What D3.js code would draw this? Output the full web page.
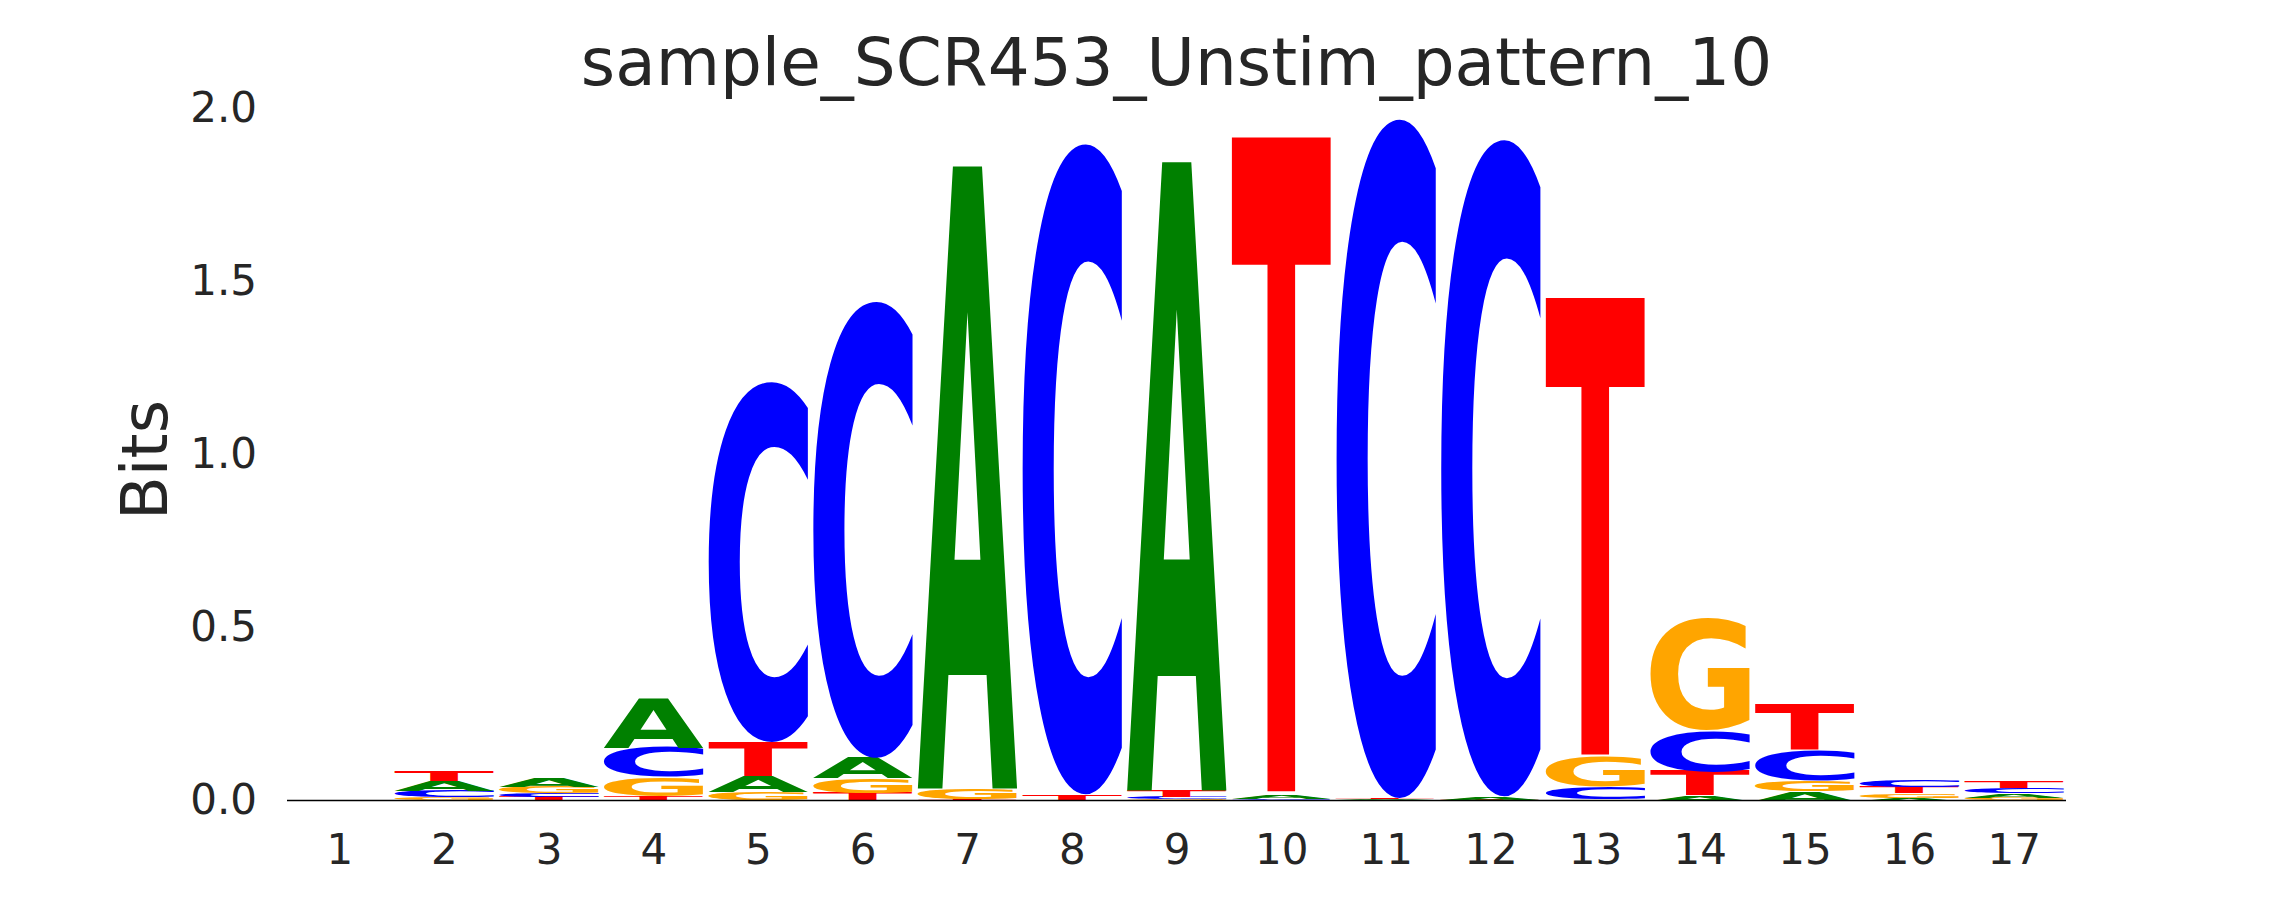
<!DOCTYPE html>
<html>
<head>
<meta charset="utf-8">
<script src="https://cdn.jsdelivr.net/npm/d3@7"></script>
<style>
  body { margin: 0; background: #fff; }
  text { font-family: "DejaVu Sans", sans-serif; fill: #262626; }
</style>
</head>
<body>
<script>
// logo data: information (bits) per letter at each position
var positions = [1, 2, 3, 4, 5, 6, 7, 8, 9, 10, 11, 12, 13, 14, 15, 16, 17];
var bitsA = [0, 0.028, 0.026, 0.142, 0.045, 0.058, 1.800, 0.000, 1.818, 0.011, 0.002, 0.008, 0.005, 0.014, 0.027, 0.008, 0.012];
var bitsC = [0, 0.018, 0.012, 0.085, 1.045, 1.324, 0.001, 1.887, 0.007, 0.003, 1.970, 1.905, 0.034, 0.118, 0.087, 0.020, 0.017];
var bitsG = [0, 0.009, 0.018, 0.056, 0.024, 0.042, 0.030, 0.000, 0.004, 0.000, 0.001, 0.000, 0.085, 0.326, 0.031, 0.013, 0.008];
var bitsT = [0, 0.029, 0.010, 0.012, 0.099, 0.022, 0.004, 0.016, 0.018, 1.905, 0.002, 0.002, 1.330, 0.070, 0.131, 0.019, 0.018];
var yTicks = [0, 0.5, 1.0, 1.5, 2.0];
var title = "sample_SCR453_Unstim_pattern_10";

var letters = ["A", "C", "G", "T"];
var letterColor = { A: "#008000", C: "#0000ff", G: "#ffa500", T: "#ff0000" };
var bitsByLetter = { A: bitsA, C: bitsC, G: bitsG, T: bitsT };

var svgWidth = 2295;
var svgHeight = 900;

var svg = d3.select("body")
  .append("svg")
  .attr("width", svgWidth)
  .attr("height", svgHeight);

var x = d3.scaleLinear()
  .domain([0.5, 17.5])
  .range([287, 2066]);

var y = d3.scaleLinear()
  .domain([0, 2])
  .range([800.5, 108.5]);

// measure tight glyph boxes so each letter can be stretched to fill its cell
var glyphSize = 200;
var ctx = document.createElement("canvas").getContext("2d");
ctx.font = "bold " + glyphSize + "px 'DejaVu Sans'";
var glyphBox = {};
letters.forEach(function(l) {
  var m = ctx.measureText(l);
  glyphBox[l] = {
    left: m.actualBoundingBoxLeft,
    right: m.actualBoundingBoxRight,
    asc: m.actualBoundingBoxAscent,
    desc: m.actualBoundingBoxDescent
  };
});

var letterWidth = (x(2) - x(1)) * 0.955;

var logoGroup = svg.append("g");

positions.forEach(function(pos, i) {
  var stack = letters.map(function(l) { return { letter: l, value: bitsByLetter[l][i] }; })
    .filter(function(d) { return d.value > 0; })
    .sort(function(a, b) { return a.value - b.value; });

  var cum = 0;
  stack.forEach(function(d) {
    var b = glyphBox[d.letter];
    var x0 = x(pos) - letterWidth / 2;
    var y0 = y(cum + d.value);
    var h = y(cum) - y(cum + d.value);
    var sx = letterWidth / (b.left + b.right);
    var sy = h / (b.asc + b.desc);
    logoGroup.append("text")
      .attr("transform", `translate(${x0},${y0}) scale(${sx},${sy}) translate(${b.left},${b.asc})`)
      .style("font-size", glyphSize + "px")
      .style("font-weight", "bold")
      .style("fill", letterColor[d.letter])
      .text(d.letter);
    cum += d.value;
  });
});

// y axis, labels only
var yAxis = svg.append("g")
  .attr("transform", "translate(287,0)")
  .call(d3.axisLeft(y).tickValues(yTicks).tickFormat(d3.format(".1f")).tickSize(0).tickPadding(30));
yAxis.select(".domain").remove();
yAxis.selectAll("text").style("font-size", "42px").style("font-family", "DejaVu Sans").attr("fill", "#262626");

// x axis labels
var xAxis = svg.append("g")
  .attr("transform", "translate(0,800.5)")
  .call(d3.axisBottom(x).tickValues(positions).tickFormat(d3.format("d")).tickSize(0).tickPadding(34));
xAxis.select(".domain").remove();
xAxis.selectAll("text").style("font-size", "42px").style("font-family", "DejaVu Sans").attr("fill", "#262626");

// bottom spine
svg.append("line")
  .attr("x1", 287)
  .attr("x2", 2066)
  .attr("y1", 800.5)
  .attr("y2", 800.5)
  .attr("stroke", "#000")
  .attr("stroke-width", 1.5);

svg.append("text")
  .attr("transform", "translate(167,460) rotate(-90)")
  .attr("text-anchor", "middle")
  .style("font-size", "64px")
  .text("Bits");

svg.append("text")
  .attr("x", (287 + 2066) / 2)
  .attr("y", 85)
  .attr("text-anchor", "middle")
  .style("font-size", "66px")
  .text(title);
</script>
</body>
</html>
